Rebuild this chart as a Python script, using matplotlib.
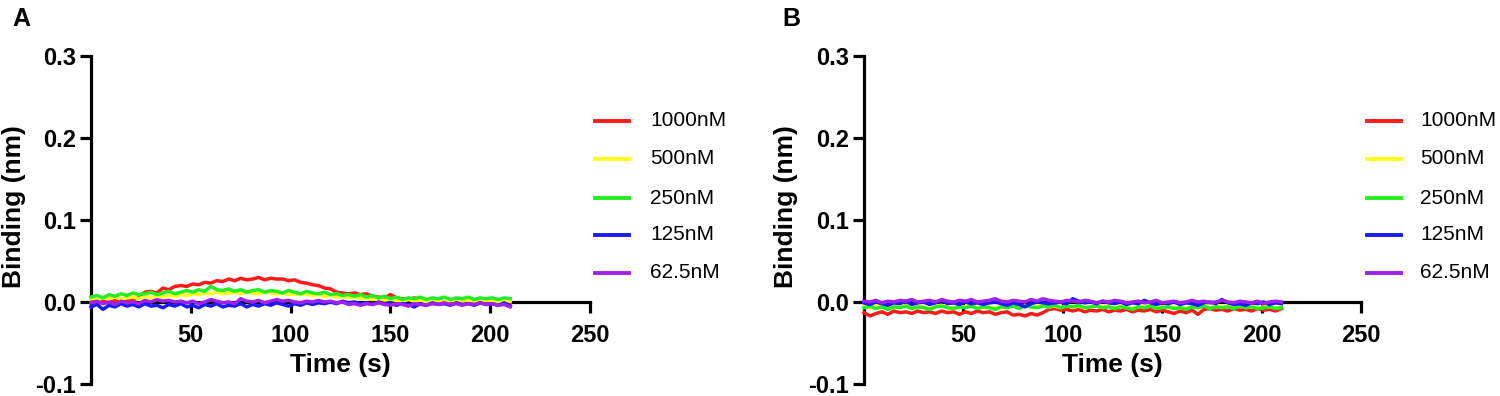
import numpy as np
import matplotlib
matplotlib.use("Agg")
import matplotlib.pyplot as plt
from matplotlib.lines import Line2D

plt.rcParams['font.family'] = ['Liberation Sans', 'DejaVu Sans']

# ---------------- data (binding in pm = 1e-3 nm, sampled every 3 s) ----------------
concentrations = ["1000nM", "500nM", "250nM", "125nM", "62.5nM"]
colors = ["#ff1a1a", "#ffff1a", "#22ee22", "#1a1aff", "#a020f0"]

a_1000 = [0, -2, 1, -1, 2, 0, 3, 2, 6, 12,
          13, 11, 17, 15, 19, 20, 19, 22, 21, 24,
          23, 26, 25, 28, 26, 29, 27, 28, 30, 27,
          29, 28, 28, 26, 27, 24, 23, 21, 20, 17,
          16, 12, 11, 10, 11, 9, 10, 7, 6, 5,
          9, 5, 4, 3, 5, 2, 3, 1, 2, 0,
          1, -1, 1, 0, 2, -1, 1, 0, -1, 1,
          -2]
a_500 = [4, 3, 5, 4, 6, 3, 5, 6, 4, 7,
         5, 8, 6, 8, 7, 9, 8, 10, 9, 11,
         10, 12, 10, 11, 12, 10, 12, 11, 10, 12,
         11, 10, 11, 9, 10, 9, 10, 8, 9, 7,
         8, 6, 7, 5, 6, 4, 5, 3, 4, 2,
         3, 2, 1, 3, 1, 2, 0, 2, 1, 0,
         2, 1, 0, 2, 1, 0, 2, 1, 0, 2,
         1]
a_250 = [6, 8, 5, 9, 7, 10, 8, 11, 9, 10,
         12, 9, 11, 13, 10, 12, 14, 12, 15, 13,
         19, 15, 14, 16, 13, 15, 12, 14, 15, 12,
         14, 13, 11, 14, 12, 10, 13, 11, 10, 12,
         9, 10, 8, 9, 7, 9, 6, 8, 5, 7,
         4, 6, 3, 5, 4, 6, 3, 5, 4, 6,
         3, 5, 4, 6, 3, 5, 4, 5, 3, 5,
         4]
a_125 = [-6, -3, -9, -4, -6, -2, -5, -3, -6, -2,
         -5, -4, -7, -3, -5, -2, -6, -4, -7, -3,
         -5, -2, -6, -4, -5, -2, -6, -3, -5, -2,
         -4, -1, -3, -5, -2, -4, -1, -3, -1, -2,
         0, -2, 1, -1, 0, -2, -1, -3, 0, -2,
         -1, -4, -2, -3, -6, -2, -4, -1, -3, -2,
         -4, -1, -3, -2, -4, -1, -3, -2, -4, -1,
         -5]
a_62 = [-1, 1, -2, 0, -3, 1, -1, 0, -2, 2,
        0, 3, 1, 2, 0, 1, -1, 1, -2, 0,
        3, 1, -1, 0, -2, 4, 1, 0, 2, -1,
        1, 3, 1, 2, 0, -1, 1, 0, 2, 0,
        1, -1, 0, -3, -2, -4, -2, -3, -1, -3,
        -4, -2, -3, -5, -2, -3, -4, -2, -3, -1,
        -3, -2, -4, -2, -3, -1, -3, -2, -4, -3,
        -6]

b_1000 = [-13, -17, -14, -12, -15, -11, -13, -12, -14, -11,
          -13, -12, -14, -11, -13, -12, -15, -12, -14, -11,
          -13, -12, -15, -13, -12, -16, -15, -17, -14, -16,
          -13, -9, -8, -10, -9, -11, -9, -12, -10, -11,
          -9, -12, -10, -11, -9, -12, -10, -11, -9, -12,
          -10, -12, -14, -11, -13, -10, -15, -9, -8, -10,
          -9, -11, -8, -10, -9, -11, -8, -10, -9, -11,
          -8]
b_500 = [-5, -7, -4, -6, -8, -5, -6, -4, -7, -5,
         -6, -8, -5, -4, -6, -7, -5, -6, -4, -7,
         -5, -6, -8, -5, -6, -4, -7, -5, -6, -5,
         -4, -6, -5, -7, -4, -6, -5, -7, -6, -4,
         -6, -5, -7, -5, -6, -8, -5, -6, -4, -7,
         -6, -5, -7, -6, -8, -5, -6, -4, -7, -5,
         -6, -5, -7, -4, -6, -5, -7, -6, -5, -7,
         -6]
b_250 = [-7, -5, -8, -6, -9, -6, -7, -5, -8, -6,
         -7, -9, -6, -5, -7, -8, -6, -7, -5, -8,
         -6, -7, -9, -6, -7, -5, -8, -4, -6, -7,
         -5, -6, -4, -7, -5, -6, -4, -7, -6, -5,
         -7, -6, -8, -6, -7, -9, -6, -7, -5, -8,
         -7, -6, -8, -7, -9, -6, -7, -5, -8, -6,
         -7, -6, -8, -5, -7, -6, -8, -7, -6, -8,
         -7]
b_125 = [-1, -3, 0, -2, -4, -1, -2, 1, -3, -1,
         0, -3, -1, 2, -2, -1, -3, 0, -2, -1,
         -3, -1, 0, -2, -4, -1, -3, -6, -2, 0,
         -1, -2, -1, 0, -2, 4, 1, -1, 0, -2,
         1, -1, -2, 0, -3, -1, -2, 2, -1, -3,
         -1, -2, 0, -3, -1, -2, -4, -1, 0, -2,
         3, -1, -3, -2, -4, -1, -2, 0, -3, -1,
         -2]
b_62 = [1, 0, 2, -1, 1, 0, 2, 1, 3, 0,
        1, 2, 0, 3, 1, 0, 2, 1, 3, 0,
        1, 2, 4, 1, 0, 2, 1, 0, 3, 1,
        4, 2, 1, 0, 2, 1, 0, 2, 1, -1,
        1, 0, 2, 1, -1, 0, 1, -1, 0, 2,
        -1, 0, 1, -1, 0, 2, 0, 1, -1, 0,
        2, 0, -1, 1, 0, -1, 1, -2, 0, 1,
        0]

x_ticks = [50, 100, 150, 200, 250]
y_ticks = [-0.1, 0.0, 0.1, 0.2, 0.3]
y_ticklabels = ["-0.1", "0.0", "0.1", "0.2", "0.3"]

panels = [("A", [a_1000, a_500, a_250, a_125, a_62]),
          ("B", [b_1000, b_500, b_250, b_125, b_62])]

# ---------------- layout (pixels) ----------------
W, H = 1500, 396
fig = plt.figure(figsize=(W / 100, H / 100), dpi=100)

def fx(px):
    return px / W

def fy(py):
    return 1 - py / H

ax_left = [91, 864]
ax_width = [499, 497]
ax_top, ax_bot = 56, 384
legend_line_x = [(595, 629), (1367, 1401)]
legend_text_x = [650, 1420]
legend_rows = [121, 159, 198, 235, 273]
panel_letter_x = [12, 782]
ylabel_x = [14, 786]

for i, (letter, series) in enumerate(panels):
    ax = fig.add_axes([fx(ax_left[i]), fy(ax_bot), ax_width[i] / W, (ax_bot - ax_top) / H])
    for vals, c in zip(series, colors):
        t = np.arange(len(vals)) * 3.0
        ax.plot(t, np.array(vals) / 1000.0, color=c, lw=2.5, solid_joinstyle='round',
                zorder=3, clip_on=False)
    ax.set_xlim(0, 250)
    ax.set_ylim(-0.1, 0.3)
    ax.spines['top'].set_visible(False)
    ax.spines['right'].set_visible(False)
    ax.spines['bottom'].set_position(('data', 0))
    for s in ('left', 'bottom'):
        ax.spines[s].set_linewidth(2.3)
        ax.spines[s].set_capstyle('projecting')
        ax.spines[s].set_zorder(1)
    ax.set_xticks(x_ticks)
    ax.set_xticklabels([str(v) for v in x_ticks])
    ax.set_yticks(y_ticks)
    ax.set_yticklabels(y_ticklabels)
    ax.tick_params(axis='both', direction='out', length=8, width=2.3, labelsize=17)
    ax.tick_params(axis='x', pad=8)
    ax.tick_params(axis='y', pad=3)
    for lab in ax.get_xticklabels() + ax.get_yticklabels():
        lab.set_fontweight('bold')
    ax.set_axisbelow(True)
    ax.patch.set_alpha(0)

    # axis titles
    fig.text(fx(ax_left[i] + ax_width[i] / 2), fy(365), "Time (s)", ha='center', va='center',
             fontsize=19, fontweight='bold')
    fig.text(fx(ylabel_x[i]), fy(207), "Binding (nm)", ha='center', va='center',
             rotation=90, fontsize=19, fontweight='bold')
    fig.text(fx(panel_letter_x[i]), fy(7), letter, ha='left', va='top',
             fontsize=18, fontweight='bold')

    # legend
    for r, (lab, c) in enumerate(zip(concentrations, colors)):
        y = fy(legend_rows[r])
        fig.add_artist(Line2D([fx(legend_line_x[i][0]), fx(legend_line_x[i][1])], [y, y],
                              transform=fig.transFigure, color=c, lw=2.8))
        fig.text(fx(legend_text_x[i]), y, lab, ha='left', va='center', fontsize=15)

fig.savefig("out.png", dpi=100)
